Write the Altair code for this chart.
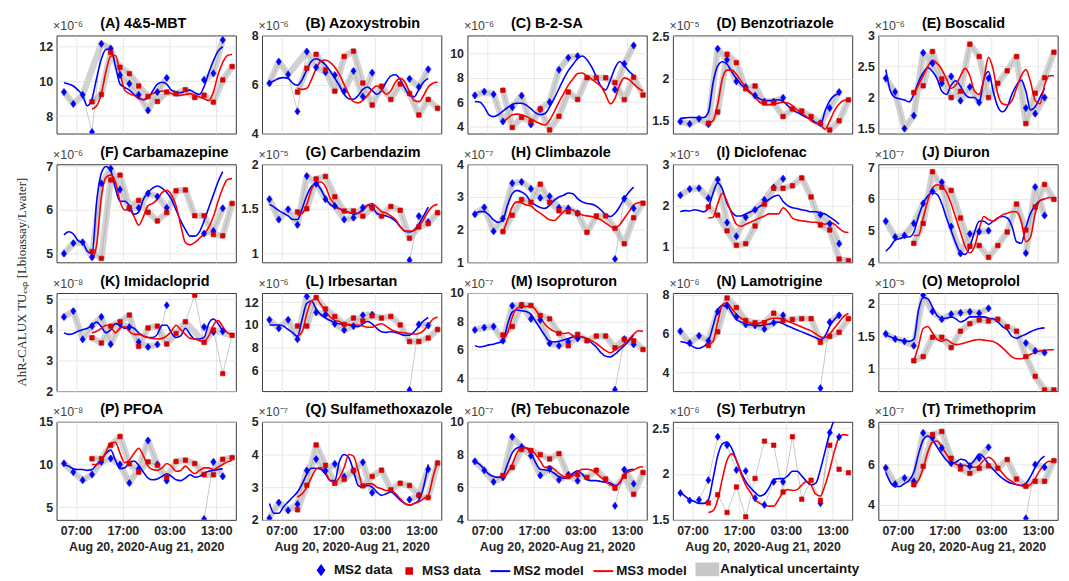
import altair as alt
import pandas as pd

# ---------------- data ----------------
LETTERS = list("ABCDEFGHIJKLMNOPQRST")
TITLES = ["(A) 4&5-MBT", "(B) Azoxystrobin", "(C) B-2-SA", "(D) Benzotriazole", "(E) Boscalid",
          "(F) Carbamazepine", "(G) Carbendazim", "(H) Climbazole", "(I) Diclofenac", "(J) Diuron",
          "(K) Imidacloprid", "(L) Irbesartan", "(M) Isoproturon", "(N) Lamotrigine", "(O) Metoprolol",
          "(P) PFOA", "(Q) Sulfamethoxazole", "(R) Tebuconazole", "(S) Terbutryn", "(T) Trimethoprim"]
EXPONENTS = [-6, -6, -6, -5, -6, -6, -5, -7, -5, -7, -8, -6, -7, -6, -5, -8, -7, -7, -6, -7]

# hours since Aug 20, 2020 00:00
MS2_TIMES = [4.4, 6.4, 8.4, 10.4, 12.4, 14.4, 16.4, 18.4, 20.4, 22.4, 24.4, 26.4, 34.4, 36.4, 38.4]
MS3_TIMES = [10.4, 12.4, 14.4, 16.4, 18.4, 20.4, 22.4, 24.4, 26.4, 28.4, 30.4, 32.4, 34.4, 36.4, 38.4, 40.4]
MS2_MODEL_TIMES = [4.4, 5.4, 6.4, 7.4, 8.4, 9.4, 10.4, 11.4, 12.4, 13.4, 14.4, 15.4, 16.4, 17.4, 18.4,
                   19.4, 20.4, 21.4, 22.4, 23.4, 24.4, 25.4, 26.4, 27.4, 28.4, 29.4, 30.4, 31.4, 32.4,
                   33.4, 34.4, 35.4, 36.4, 37.4, 38.4]
MS3_MODEL_TIMES = [10.4, 11.4, 12.4, 13.4, 14.4, 15.4, 16.4, 17.4, 18.4, 19.4, 20.4, 21.4, 22.4, 23.4,
                   24.4, 25.4, 26.4, 27.4, 28.4, 29.4, 30.4, 31.4, 32.4, 33.4, 34.4, 35.4, 36.4, 37.4,
                   38.4, 39.4, 40.4]
MS2_GAP_AFTER = 30  # MS2 sampling paused between 26:24 and 34:24

X_DOMAIN = [2.8, 41.2]
X_TICKS = [7, 17, 27, 37]
X_TITLE = "Aug 20, 2020-Aug 21, 2020"

Y_DOMAINS = {"A": [7.0, 12.65], "B": [4, 8], "C": [3.4, 11.5], "D": [1.35, 2.51], "E": [1.42, 3.0],
             "F": [4.8, 7.05], "G": [0.9, 2.0], "H": [1, 4], "I": [0.63, 3.0], "J": [4, 7.1],
             "K": [2, 5.2], "L": [4.2, 12.8], "M": [3.1, 10], "N": [3.05, 8.1], "O": [0.65, 2.17],
             "P": [3.5, 15], "Q": [2, 5], "R": [4, 10], "S": [1.5, 2.57], "T": [3.25, 8.1]}
Y_TICKS = {"A": [8, 10, 12], "B": [4, 6, 8], "C": [4, 6, 8, 10], "D": [1.5, 2, 2.5], "E": [1.5, 2, 2.5, 3],
           "F": [5, 6, 7], "G": [1, 1.5, 2], "H": [1, 2, 3, 4], "I": [1, 2, 3], "J": [4, 5, 6, 7],
           "K": [2, 3, 4, 5], "L": [6, 8, 10, 12], "M": [4, 6, 8, 10], "N": [4, 6, 8], "O": [1, 1.5, 2],
           "P": [5, 10, 15], "Q": [2, 3, 4, 5], "R": [4, 6, 8, 10], "S": [1.5, 2, 2.5], "T": [4, 6, 8]}

MS2_DATA = {
    "A": [9.39, 8.71, 9.23, 7.09, 12.17, 11.9, 10.37, 9.87, 9.23, 8.33, 9.39, 10.2, 10.09, 10.47, 12.39],
    "B": [6.05, 6.93, 6.41, 4.9, 7.34, 6.7, 6.5, 6.38, 5.72, 6.55, 5.51, 6.48, 6.23, 5.9, 6.62],
    "C": [6.55, 6.86, 6.64, 4.4, 5.57, 6.53, 4.15, 5.4, 6.0, 8.66, 9.66, 9.8, 7.03, 9.16, 10.67],
    "D": [1.492, 1.464, 1.524, 1.46, 2.352, 2.224, 1.968, 1.9, 1.8, 1.728, 1.728, 1.772, 1.472, 1.652, 1.84],
    "E": [2.31, 2.09, 1.5, 1.71, 2.72, 2.55, 2.23, 2.34, 1.95, 2.17, 1.92, 2.31, 1.83, 1.74, 2.0],
    "F": [5.0, 5.24, 5.26, 4.92, 6.61, 6.95, 6.47, 6.04, 6.05, 6.38, 6.31, 6.05, 5.46, 5.52, 6.04],
    "G": [1.608, 1.38, 1.494, 1.32, 1.867, 1.78, 1.608, 1.532, 1.38, 1.4, 1.513, 1.513, 0.924, 1.418, 1.35],
    "H": [2.47, 2.68, 1.95, 2.34, 3.42, 3.46, 3.25, 2.97, 3.02, 2.67, 2.65, 2.5, 1.1, 2.95, 2.65],
    "I": [2.25, 2.4, 2.42, 2.18, 2.63, 1.59, 1.26, 1.72, 1.9, 2.14, 2.44, 2.65, 1.78, 1.56, 1.08],
    "J": [5.3, 4.8, 4.85, 5.23, 5.86, 6.24, 6.53, 5.13, 4.28, 4.9, 4.97, 5.0, 4.29, 6.38, 5.48],
    "K": [4.42, 4.61, 3.69, 4.12, 4.42, 3.53, 4.19, 4.09, 3.6, 3.44, 3.52, 4.8, 4.09, 3.93, 3.95],
    "L": [10.45, 9.7, 10.45, 8.75, 12.5, 11.1, 10.9, 10.1, 9.55, 9.9, 10.85, 10.9, 4.3, 10.05, 9.95],
    "M": [7.4, 7.57, 7.64, 6.64, 9.1, 9.12, 8.18, 8.1, 6.45, 6.29, 6.57, 6.8, 3.2, 6.76, 6.38],
    "N": [6.13, 5.52, 5.9, 5.64, 7.14, 7.44, 6.87, 6.48, 6.43, 6.25, 6.57, 6.95, 3.2, 6.6, 6.95],
    "O": [1.537, 1.458, 1.42, 1.353, 2.14, 1.884, 1.763, 1.842, 1.863, 1.879, 1.858, 1.932, 1.395, 1.274, 1.247],
    "P": [10.12, 9.1, 8.15, 8.82, 10.3, 10.7, 10.0, 7.83, 9.5, 12.8, 10.0, 8.1, 3.6, 10.3, 8.6],
    "Q": [2.05, 2.53, 2.29, 2.48, 3.51, 3.86, 3.5, 3.71, 3.32, 3.5, 3.76, 2.83, 2.62, 2.75, 3.55],
    "R": [7.58, 7.03, 6.33, 6.6, 9.08, 8.46, 7.93, 6.72, 7.11, 6.45, 6.76, 6.39, 4.86, 7.07, 6.21],
    "S": [1.793, 1.711, 1.719, 1.933, 2.407, 2.315, 2.044, 2.033, 1.737, 1.663, 1.915, 1.915, 1.681, 2.452, 2.404],
    "T": [5.82, 5.02, 5.32, 5.16, 7.55, 7.31, 6.81, 6.05, 5.9, 5.9, 6.3, 6.84, 3.32, 5.98, 5.85],
}

MS3_DATA = {
    "A": [8.83, 9.25, 11.67, 10.82, 10.45, 9.74, 9.14, 8.85, 9.39, 9.29, 9.52, 9.08, 9.21, 8.81, 10.09, 10.86],
    "B": [5.69, 6.66, 7.23, 6.6, 5.73, 7.14, 7.36, 6.06, 5.16, 5.93, 5.39, 6.02, 5.63, 4.76, 5.39, 5.03],
    "C": [6.97, 3.9, 4.73, 4.37, 5.43, 3.7, 4.82, 6.83, 6.22, 8.01, 8.0, 8.0, 7.6, 6.2, 8.04, 6.58],
    "D": [1.472, 1.604, 2.288, 2.188, 1.88, 1.912, 1.712, 1.712, 1.552, 1.64, 1.616, 1.552, 1.472, 1.392, 1.5, 1.748],
    "E": [2.08, 2.19, 2.74, 2.3, 2.0, 2.1, 2.86, 2.66, 2.0, 2.23, 2.43, 2.66, 1.58, 2.07, 2.32, 2.73],
    "F": [5.05, 4.89, 6.69, 6.8, 6.05, 6.22, 5.95, 5.75, 5.94, 6.44, 6.46, 5.87, 5.87, 5.44, 5.41, 6.15],
    "G": [1.464, 1.5, 1.836, 1.863, 1.635, 1.475, 1.475, 1.418, 1.51, 1.418, 1.525, 1.483, 1.171, 1.297, 1.335, 1.456],
    "H": [1.94, 2.44, 2.92, 2.84, 3.39, 2.84, 2.58, 2.55, 2.5, 1.92, 2.42, 2.42, 2.04, 1.57, 2.36, 2.81],
    "I": [1.97, 1.77, 1.39, 1.04, 1.08, 1.51, 2.03, 2.42, 2.42, 2.48, 2.67, 2.21, 1.53, 1.41, 0.71, 0.67],
    "J": [4.6, 5.23, 6.86, 6.37, 6.27, 5.4, 4.51, 4.53, 4.16, 4.53, 4.96, 5.84, 5.02, 5.75, 6.46, 5.99],
    "K": [3.74, 3.57, 4.12, 4.26, 4.48, 3.46, 4.06, 4.12, 3.54, 3.88, 4.26, 5.13, 3.59, 3.99, 2.57, 3.82],
    "L": [9.9, 9.9, 12.4, 11.4, 10.75, 10.05, 10.6, 10.35, 10.8, 10.6, 10.75, 10.0, 8.55, 8.55, 8.85, 9.6],
    "M": [7.05, 7.64, 9.17, 9.12, 8.42, 8.18, 7.16, 6.29, 7.09, 6.64, 6.97, 6.97, 6.15, 6.74, 6.64, 6.03],
    "N": [5.4, 6.1, 7.84, 7.35, 6.69, 6.57, 6.57, 7.06, 6.69, 6.74, 6.78, 6.78, 5.56, 5.87, 6.08, 6.78],
    "O": [1.121, 1.184, 1.484, 1.484, 1.326, 1.579, 1.695, 1.753, 1.737, 1.763, 1.647, 1.579, 1.184, 0.879, 0.668, 0.668],
    "P": [10.67, 10.67, 12.24, 13.27, 10.08, 9.1, 10.3, 9.92, 8.5, 10.35, 10.5, 10.1, 8.8, 8.8, 10.6, 10.8],
    "Q": [2.31, 3.06, 4.29, 3.67, 3.12, 3.24, 3.51, 3.04, 3.33, 3.52, 2.92, 3.12, 3.05, 2.75, 2.68, 3.74],
    "R": [6.72, 7.21, 8.3, 8.24, 7.99, 7.73, 8.05, 6.65, 6.76, 6.6, 7.03, 6.5, 5.94, 6.66, 5.57, 6.9],
    "S": [1.685, 1.774, 1.581, 1.859, 1.533, 1.952, 2.359, 2.315, 1.804, 2.407, 1.726, 1.933, 1.711, 2.315, 2.052, 2.015],
    "T": [4.99, 5.9, 7.47, 7.62, 6.3, 5.77, 5.55, 5.8, 5.92, 5.8, 6.23, 5.27, 4.91, 5.16, 5.16, 6.18],
}

MS2_MODEL = {
    "A": [9.93, 9.85, 9.74, 9.5, 9.2, 8.6, 9.0, 10.2, 11.3, 11.85, 11.85, 10.9, 9.85, 9.65, 9.5, 9.25, 9.05, 8.95,
          9.05, 9.45, 9.85, 9.95, 9.85, 9.5, 9.4, 9.35, 9.45, 9.5, 9.35, 9.25, 9.7, 10.5, 11.2, 11.75, 12.0],
    "B": [6.06, 6.15, 6.25, 6.28, 6.25, 6.05, 5.97, 6.2, 6.6, 6.95, 7.05, 6.97, 6.8, 6.55, 6.25, 5.95, 5.6, 5.42,
          5.4, 5.55, 5.8, 5.9, 5.75, 5.6, 5.75, 6.1, 6.35, 6.4, 6.2, 5.85, 5.55, 5.5, 5.8, 6.1, 6.25],
    "C": [6.05, 6.0, 5.6, 4.95, 4.8, 4.95, 5.25, 5.55, 5.8, 5.9, 5.9, 5.75, 5.45, 5.1, 4.95, 5.05, 5.6, 6.3,
          7.1, 7.9, 8.6, 9.1, 9.6, 9.8, 9.5, 8.9, 8.1, 7.3, 7.0, 7.8, 8.8, 9.35, 9.0, 8.55, 8.2],
    "D": [1.53, 1.535, 1.54, 1.54, 1.54, 1.54, 1.6, 1.95, 2.15, 2.2, 2.17, 2.08, 2.0, 1.93, 1.88, 1.83, 1.8, 1.76,
          1.74, 1.74, 1.745, 1.75, 1.73, 1.68, 1.63, 1.6, 1.57, 1.54, 1.52, 1.48, 1.45, 1.62, 1.74, 1.8, 1.82],
    "E": [2.45, 2.1, 2.0, 1.98, 1.96, 1.93, 2.05, 2.25, 2.4, 2.48, 2.42, 2.3, 2.1, 2.05, 2.2, 2.27, 2.18, 2.05,
          2.0, 2.0, 1.92, 2.3, 2.42, 2.1, 1.85, 1.77, 1.85, 2.05, 2.2, 2.28, 2.1, 1.8, 1.85, 2.0, 2.15],
    "F": [5.43, 5.5, 5.45, 5.3, 5.25, 5.05, 5.0, 6.2, 6.85, 7.0, 6.9, 6.5, 6.2, 6.2, 6.1, 5.9, 5.95, 6.25,
          6.4, 6.5, 6.55, 6.5, 6.4, 6.25, 6.0, 5.75, 5.55, 5.4, 5.4, 5.5, 5.75, 6.05, 6.35, 6.65, 6.88],
    "G": [1.55, 1.52, 1.48, 1.45, 1.42, 1.38, 1.38, 1.5, 1.65, 1.75, 1.78, 1.72, 1.62, 1.55, 1.52, 1.5, 1.48, 1.46,
          1.44, 1.45, 1.5, 1.54, 1.52, 1.45, 1.43, 1.42, 1.4, 1.36, 1.3, 1.25, 1.24, 1.26, 1.33, 1.42, 1.52],
    "H": [2.47, 2.55, 2.55, 2.45, 2.3, 2.22, 2.3, 2.75, 3.1, 3.2, 3.15, 3.05, 2.85, 2.75, 2.68, 2.65, 2.75, 2.9,
          3.0, 3.05, 3.12, 3.1, 2.95, 2.85, 2.8, 2.78, 2.72, 2.6, 2.45, 2.4, 2.5, 2.7, 2.95, 3.15, 3.3],
    "I": [1.85, 1.88, 1.87, 1.9, 1.88, 1.85, 1.95, 2.3, 2.55, 2.4, 2.05, 1.85, 1.75, 1.75, 1.8, 1.85, 1.9, 1.98,
          2.05, 2.15, 2.22, 2.25, 2.1, 2.0, 1.95, 1.93, 1.9, 1.88, 1.85, 1.85, 1.82, 1.8, 1.72, 1.65, 1.55],
    "J": [4.35, 4.5, 4.7, 4.75, 4.8, 4.8, 4.95, 5.45, 5.85, 6.1, 6.2, 6.15, 5.85, 5.4, 5.0, 4.6, 4.3, 4.25,
          4.5, 4.95, 5.3, 5.3, 5.2, 5.3, 5.4, 5.45, 5.4, 5.15, 4.65, 4.6, 5.1, 5.55, 5.8, 5.95, 6.0],
    "K": [3.9, 3.85, 3.88, 3.95, 4.0, 4.05, 4.15, 4.25, 4.1, 3.9, 4.0, 4.2, 4.15, 4.05, 4.1, 4.05, 3.9, 3.8,
          3.75, 3.75, 3.85, 4.15, 4.15, 3.9, 3.75, 3.8, 4.05, 3.85, 3.7, 3.7, 3.75, 4.2, 4.35, 4.2, 3.95],
    "L": [10.0, 10.0, 10.0, 9.9, 9.6, 9.3, 9.0, 10.5, 11.9, 12.1, 11.4, 10.9, 10.6, 10.4, 10.2, 10.1, 10.05, 10.0,
          9.9, 9.85, 10.1, 10.3, 10.1, 9.7, 9.4, 9.35, 9.4, 9.35, 9.2, 9.1, 9.1, 9.4, 9.9, 10.35, 10.65],
    "M": [6.3, 6.2, 6.25, 6.35, 6.4, 6.5, 6.6, 7.8, 8.65, 8.8, 8.75, 8.7, 8.5, 8.0, 7.5, 7.0, 6.6, 6.55,
          6.6, 6.7, 6.8, 6.9, 6.95, 6.9, 6.75, 6.5, 6.2, 5.8, 5.55, 5.5, 5.7, 6.0, 6.3, 6.65, 7.05],
    "N": [5.6, 5.55, 5.45, 5.3, 5.25, 5.35, 5.6, 6.4, 7.2, 7.45, 7.45, 7.1, 6.75, 6.6, 6.5, 6.45, 6.45, 6.42,
          6.45, 6.5, 6.58, 6.6, 6.52, 6.4, 6.3, 6.2, 6.1, 6.0, 5.9, 5.8, 5.7, 5.9, 6.4, 6.75, 6.95],
    "O": [1.52, 1.49, 1.46, 1.44, 1.43, 1.42, 1.45, 1.9, 2.1, 2.08, 1.95, 1.82, 1.78, 1.78, 1.8, 1.77, 1.72, 1.75,
          1.8, 1.8, 1.8, 1.8, 1.78, 1.77, 1.72, 1.65, 1.6, 1.5, 1.47, 1.5, 1.53, 1.57, 1.6, 1.62, 1.63],
    "P": [10.0, 9.8, 9.5, 9.4, 9.4, 9.3, 9.4, 10.0, 10.6, 11.3, 11.7, 10.5, 9.5, 9.6, 10.2, 10.4, 9.9, 9.1,
          8.4, 8.2, 8.3, 8.6, 8.9, 8.6, 8.2, 8.1, 8.4, 8.8, 8.5, 8.6, 9.0, 9.2, 9.3, 9.4, 9.5],
    "Q": [2.5, 2.2, 2.2, 2.4, 2.55, 2.7, 2.85, 3.1, 3.4, 3.58, 3.58, 3.55, 3.4, 3.2, 3.2, 3.8, 4.0, 3.9,
          3.5, 3.05, 3.0, 3.05, 3.0, 2.85, 2.75, 2.8, 2.85, 2.75, 2.6, 2.5, 2.45, 2.5, 2.6, 3.0, 3.7],
    "R": [7.55, 7.4, 7.1, 6.8, 6.65, 6.6, 6.7, 7.4, 8.1, 8.4, 8.45, 8.4, 8.1, 7.5, 7.1, 7.05, 7.0, 6.85,
          6.65, 6.55, 6.6, 6.85, 7.0, 6.8, 6.45, 6.4, 6.4, 6.35, 6.3, 6.25, 6.1, 6.25, 6.75, 7.05, 7.1],
    "S": [1.8, 1.76, 1.72, 1.7, 1.68, 1.68, 1.72, 1.95, 2.2, 2.33, 2.35, 2.28, 2.15, 2.02, 1.92, 1.85, 1.8, 1.76,
          1.78, 1.85, 1.94, 1.95, 1.95, 1.98, 2.03, 2.03, 1.98, 1.92, 1.88, 1.9, 2.05, 2.25, 2.45, 2.6, 2.7],
    "T": [5.6, 5.1, 4.9, 4.9, 5.05, 5.2, 5.6, 6.5, 7.2, 7.4, 7.2, 6.85, 6.5, 6.2, 6.05, 6.1, 6.25, 6.2,
          6.0, 6.2, 6.5, 6.35, 6.0, 5.75, 5.5, 5.3, 5.15, 5.05, 5.0, 4.95, 5.05, 5.4, 5.85, 6.2, 6.4],
}

MS3_MODEL = {
    "A": [8.4, 8.6, 9.3, 10.6, 11.45, 11.5, 10.5, 9.5, 9.3, 9.2, 9.0, 8.95, 9.15, 9.3, 9.4, 9.45, 9.4, 9.3,
          9.2, 9.2, 9.25, 9.3, 9.2, 9.1, 9.0, 8.9, 9.4, 10.4, 11.1, 11.5, 11.55],
    "B": [5.85, 5.8, 5.85, 6.2, 6.65, 6.95, 7.0, 6.9, 6.7, 6.4, 6.0, 5.6, 5.3, 5.25, 5.35, 5.55, 5.8, 5.95,
          5.8, 5.6, 5.75, 6.1, 6.25, 6.1, 5.7, 5.35, 5.3, 5.55, 5.9, 6.05, 6.1],
    "C": [4.35, 4.65, 4.95, 5.0, 4.95, 4.8, 4.6, 4.4, 4.2, 4.1, 4.5, 5.2, 6.0, 6.7, 7.4, 7.9, 8.35, 8.4,
          8.15, 7.9, 7.6, 7.3, 6.6, 5.85, 6.3, 7.4, 8.0, 7.85, 7.5, 7.15, 6.9],
    "D": [1.47, 1.5, 1.7, 2.0, 2.1, 2.1, 2.05, 1.97, 1.9, 1.84, 1.78, 1.72, 1.7, 1.69, 1.7, 1.71, 1.72, 1.71,
          1.68, 1.63, 1.59, 1.55, 1.5, 1.47, 1.45, 1.4, 1.5, 1.62, 1.7, 1.74, 1.75],
    "E": [2.05, 2.2, 2.35, 2.5, 2.6, 2.55, 2.45, 2.3, 2.15, 2.2, 2.35, 2.47, 2.35, 2.1, 2.05, 2.3, 2.65, 2.45,
          2.05, 1.9, 1.88, 1.95, 2.15, 2.35, 2.45, 2.25, 1.95, 1.9, 2.2, 2.35, 2.35],
    "F": [4.85, 5.2, 6.3, 6.75, 6.8, 6.65, 6.2, 6.0, 6.0, 5.85, 5.65, 5.85, 6.1, 6.15, 6.25, 6.4, 6.45, 6.35,
          6.1, 5.65, 5.25, 5.2, 5.25, 5.35, 5.45, 5.6, 5.85, 6.2, 6.5, 6.7, 6.72],
    "G": [1.43, 1.45, 1.55, 1.72, 1.79, 1.8, 1.75, 1.62, 1.55, 1.5, 1.47, 1.46, 1.45, 1.45, 1.48, 1.54, 1.56, 1.52,
          1.47, 1.45, 1.42, 1.38, 1.3, 1.25, 1.25, 1.26, 1.3, 1.38, 1.47, 1.53, 1.55],
    "H": [1.92, 2.3, 2.7, 2.85, 2.82, 2.75, 2.72, 2.6, 2.5, 2.4, 2.3, 2.28, 2.4, 2.55, 2.62, 2.6, 2.5, 2.45,
          2.42, 2.4, 2.35, 2.3, 2.2, 2.1, 2.05, 2.15, 2.35, 2.55, 2.75, 2.82, 2.85],
    "I": [1.7, 1.72, 2.05, 2.3, 2.1, 1.8, 1.55, 1.5, 1.55, 1.6, 1.65, 1.7, 1.75, 1.8, 1.8, 1.8, 1.95, 1.85,
          1.7, 1.65, 1.63, 1.62, 1.6, 1.6, 1.58, 1.55, 1.6, 1.55, 1.45, 1.37, 1.35],
    "J": [4.85, 4.85, 5.4, 5.95, 6.35, 6.45, 6.4, 6.2, 5.85, 5.4, 4.95, 4.5, 4.3, 4.5, 5.05, 5.45, 5.35, 5.3,
          5.4, 5.5, 5.55, 5.6, 5.6, 5.3, 4.65, 4.8, 5.55, 5.95, 6.0, 6.05, 6.0],
    "K": [3.9, 3.95, 4.05, 4.15, 4.1, 3.9, 4.05, 4.1, 3.95, 3.85, 3.85, 3.8, 3.75, 3.72, 3.7, 3.72, 3.8, 3.95,
          4.15, 4.0, 3.85, 3.72, 3.7, 3.65, 3.62, 3.8, 4.15, 4.3, 4.1, 3.9, 3.85],
    "L": [9.0, 9.4, 11.0, 12.1, 12.3, 11.8, 11.2, 10.7, 10.4, 10.3, 10.1, 10.05, 10.0, 10.0, 9.9, 9.8, 9.8, 10.0,
          10.1, 9.9, 9.6, 9.45, 9.35, 9.3, 9.25, 9.2, 9.25, 9.5, 10.0, 10.5, 10.7],
    "M": [6.7, 7.2, 8.3, 8.95, 9.0, 9.05, 9.1, 8.8, 8.3, 7.8, 7.5, 7.3, 7.2, 7.15, 7.2, 7.0, 6.9, 6.9,
          6.8, 6.65, 6.45, 6.2, 5.95, 5.8, 6.0, 6.2, 6.4, 6.75, 7.1, 7.35, 7.3],
    "N": [5.45, 5.6, 6.6, 7.5, 7.6, 7.3, 7.0, 6.8, 6.65, 6.55, 6.5, 6.55, 6.65, 6.75, 6.8, 6.8, 6.75, 6.65,
          6.55, 6.45, 6.35, 6.25, 6.15, 6.0, 5.85, 5.8, 6.0, 6.3, 6.6, 6.9, 7.05],
    "O": [1.12, 1.35, 1.62, 1.65, 1.55, 1.45, 1.42, 1.45, 1.4, 1.37, 1.38, 1.4, 1.42, 1.44, 1.45, 1.44, 1.43, 1.42,
          1.38, 1.32, 1.25, 1.18, 1.15, 1.15, 1.18, 1.22, 1.25, 1.27, 1.28, 1.29, 1.29],
    "P": [10.0, 10.0, 10.4, 11.5, 12.5, 12.6, 11.3, 10.2, 10.5, 11.3, 11.9, 11.0, 9.8, 9.4, 9.3, 9.6, 10.1, 9.8,
          9.2, 9.3, 9.8, 9.3, 8.9, 9.3, 9.6, 9.6, 9.4, 9.7, 10.0, 10.3, 10.5],
    "Q": [2.7, 2.8, 3.0, 3.3, 3.55, 3.6, 3.45, 3.2, 3.15, 3.3, 3.6, 4.0, 3.95, 3.5, 3.05, 3.1, 3.1, 3.0,
          2.95, 2.9, 2.9, 2.8, 2.65, 2.5, 2.45, 2.5, 2.55, 2.65, 2.75, 3.3, 3.8],
    "R": [6.45, 6.9, 7.4, 8.1, 8.45, 8.4, 8.3, 8.0, 7.6, 7.2, 7.3, 7.1, 6.85, 6.65, 6.6, 6.7, 6.95, 7.1,
          7.1, 7.05, 6.85, 6.6, 6.35, 6.15, 6.05, 6.3, 6.75, 6.95, 7.05, 7.2, 7.25],
    "S": [1.58, 1.6, 1.72, 1.95, 2.15, 2.22, 2.15, 2.0, 1.88, 1.8, 1.72, 1.68, 1.66, 1.65, 1.65, 1.72, 1.8, 1.83,
          1.82, 1.83, 1.88, 1.92, 1.88, 1.78, 1.76, 1.88, 2.05, 2.25, 2.4, 2.43, 2.42],
    "T": [4.95, 5.2, 5.8, 6.6, 7.1, 7.15, 6.85, 6.5, 6.15, 6.0, 5.95, 5.95, 5.85, 5.85, 5.95, 6.2, 6.35, 6.2,
          5.85, 5.55, 5.3, 5.15, 5.0, 4.95, 4.9, 5.0, 5.3, 5.7, 6.0, 6.15, 6.1],
}

# data points (list positions) left out of the analytical-uncertainty band
BAND_SKIP_MS2 = {"A": [3], "B": [3], "G": [12], "H": [12], "K": [11], "L": [12], "M": [12],
                 "N": [12], "P": [12], "R": [12], "T": [12]}
BAND_SKIP_MS3 = {"K": [11, 14]}
NO_BAND = ["S"]

LEGEND_LABELS = ["MS2 data", "MS3 data", "MS2 model", "MS3 model", "Analytical uncertainty"]
LEGEND_COLORS = ["#0000ff", "#d80000", "#0000ff", "#ff0000", "#c8c8c8"]
LEGEND_SHAPES = ["M0,-0.45L0.32,0L0,0.45L-0.32,0Z", "M-0.28,-0.28H0.28V0.28H-0.28Z",
                 "M-1,0H1", "M-1,0H1", "M-1.1,-0.6H1.1V0.6H-1.1Z"]
YLABEL = "AhR-CALUX TUₑₓₚ [Lbioassay/Lwater]"

# ---------------- checks ----------------
for k in LETTERS:
    assert len(MS2_DATA[k]) == len(MS2_TIMES), k
    assert len(MS3_DATA[k]) == len(MS3_TIMES), k
    assert len(MS2_MODEL[k]) == len(MS2_MODEL_TIMES), k
    assert len(MS3_MODEL[k]) == len(MS3_MODEL_TIMES), k

SUP = {"-": "\u207b", "5": "\u2075", "6": "\u2076", "7": "\u2077", "8": "\u2078"}
FONT = "Liberation Sans"


def exp_label(e):
    return "\u00d710" + "".join(SUP[c] for c in str(e))


LEG = alt.Legend(title=None, orient="none", legendX=301, legendY=528, direction="horizontal",
                 labelFontSize=13.5, labelFontWeight="bold", labelColor="#111111",
                 labelFont=FONT, columnPadding=5, labelOffset=2, labelLimit=400,
                 symbolSize=400, symbolStrokeWidth=2, symbolOpacity=1)
FILL_SCALE = alt.Scale(domain=LEGEND_LABELS, range=LEGEND_COLORS)
STROKE_SCALE = alt.Scale(domain=LEGEND_LABELS, range=LEGEND_COLORS)
SHAPE_SCALE = alt.Scale(domain=LEGEND_LABELS, range=LEGEND_SHAPES)


def panel(i):
    key = LETTERS[i]
    bottom = i >= 15
    if bottom:
        xaxis = alt.Axis(values=X_TICKS, grid=True, ticks=False, domain=False,
                         labelExpr="(datum.value % 24 < 10 ? '0' : '') + (datum.value % 24) + ':00'",
                         title=X_TITLE, labelFontWeight="bold", labelFontSize=12.5,
                         titleFontWeight="bold", titleFontSize=12.5, labelPadding=5, titlePadding=3)
    else:
        xaxis = alt.Axis(values=X_TICKS, grid=True, ticks=False, domain=False, labels=False, title=None)
    yaxis = alt.Axis(values=Y_TICKS[key], format="~r", title=exp_label(EXPONENTS[i]), titleAngle=0,
                     titleAlign="left", titleBaseline="bottom", titleX=-4, titleY=-3,
                     titleFontWeight="normal", titleFontSize=12.5, titleColor="#404040",
                     grid=True, ticks=False, domain=False, labelFontWeight="bold",
                     labelFontSize=12.5, labelPadding=4)
    xs = alt.Scale(domain=X_DOMAIN, nice=False, zero=False)
    ys = alt.Scale(domain=Y_DOMAINS[key], nice=False, zero=False)
    X = alt.X("t:Q", scale=xs, axis=xaxis)
    Y = alt.Y("v:Q", scale=ys, axis=yaxis)

    d2 = pd.DataFrame({"t": MS2_TIMES, "v": MS2_DATA[key], "series": "MS2 data"})
    d2["seg"] = (d2["t"] > MS2_GAP_AFTER).astype(int)
    d3 = pd.DataFrame({"t": MS3_TIMES, "v": MS3_DATA[key], "series": "MS3 data"})
    d3["seg"] = 0
    m2 = pd.DataFrame({"t": MS2_MODEL_TIMES, "v": MS2_MODEL[key]})
    m3 = pd.DataFrame({"t": MS3_MODEL_TIMES, "v": MS3_MODEL[key]})

    layers = []
    if key not in NO_BAND:
        b2 = d2.drop(index=BAND_SKIP_MS2.get(key, []))
        b3 = d3.drop(index=BAND_SKIP_MS3.get(key, []))
        for b in (b2, b3):
            layers.append(alt.Chart(b).mark_line(color="#d2d2d2", strokeWidth=6.5, strokeJoin="round",
                                                 strokeCap="round", clip=True).encode(
                x=X, y=Y, detail="seg:N"))
    for d in (d2, d3):
        layers.append(alt.Chart(d).mark_line(color="#a6a6a6", strokeWidth=0.6, clip=True).encode(
            x=X, y=Y, detail="seg:N"))
    layers.append(alt.Chart(m2).mark_line(color="#0000ff", strokeWidth=1.6, interpolate="monotone",
                                          clip=True).encode(x=X, y=Y))
    layers.append(alt.Chart(m3).mark_line(color="#ff0000", strokeWidth=1.6, interpolate="monotone",
                                          clip=True).encode(x=X, y=Y))
    for d in (d2, d3):
        layers.append(alt.Chart(d).mark_point(filled=True, size=260, strokeWidth=0.6, opacity=1,
                                              clip=True).encode(
            x=X, y=Y,
            fill=alt.Fill("series:N", scale=FILL_SCALE, legend=LEG),
            stroke=alt.Stroke("series:N", scale=STROKE_SCALE, legend=LEG),
            shape=alt.Shape("series:N", scale=SHAPE_SCALE, legend=LEG)))
    return alt.layer(*layers).properties(
        width=181, height=99,
        title=alt.TitleParams(TITLES[i], fontSize=14.5, fontWeight="bold", font=FONT,
                              offset=-12, frame="group", anchor="start", dx=44, color="#000000"))


panels = [panel(i) for i in range(20)]
grid = alt.concat(*panels, columns=5, spacing={"row": 31, "column": 26.4}, bounds="flush")

ylab = alt.Chart(pd.DataFrame({"txt": [YLABEL]})).mark_text(
    angle=270, font="Liberation Serif", fontSize=13, color="#262626", align="center", baseline="middle"
).encode(text="txt:N", x=alt.value(10), y=alt.value(249)).properties(
    width=20, height=500, view=alt.ViewBackground(strokeWidth=0))

chart = alt.hconcat(ylab, grid, spacing=6).properties(
    padding={"left": 4, "top": 5, "right": 2, "bottom": 0}
).configure_view(stroke="#3a3a3a", strokeWidth=1).configure_axis(
    labelFont=FONT, titleFont=FONT, labelColor="#262626",
    titleColor="#262626", gridColor="#dedede", gridWidth=0.7
).configure_legend(symbolStrokeWidth=2)

chart.save("out.html", embed_options={"renderer": "svg", "actions": False})
